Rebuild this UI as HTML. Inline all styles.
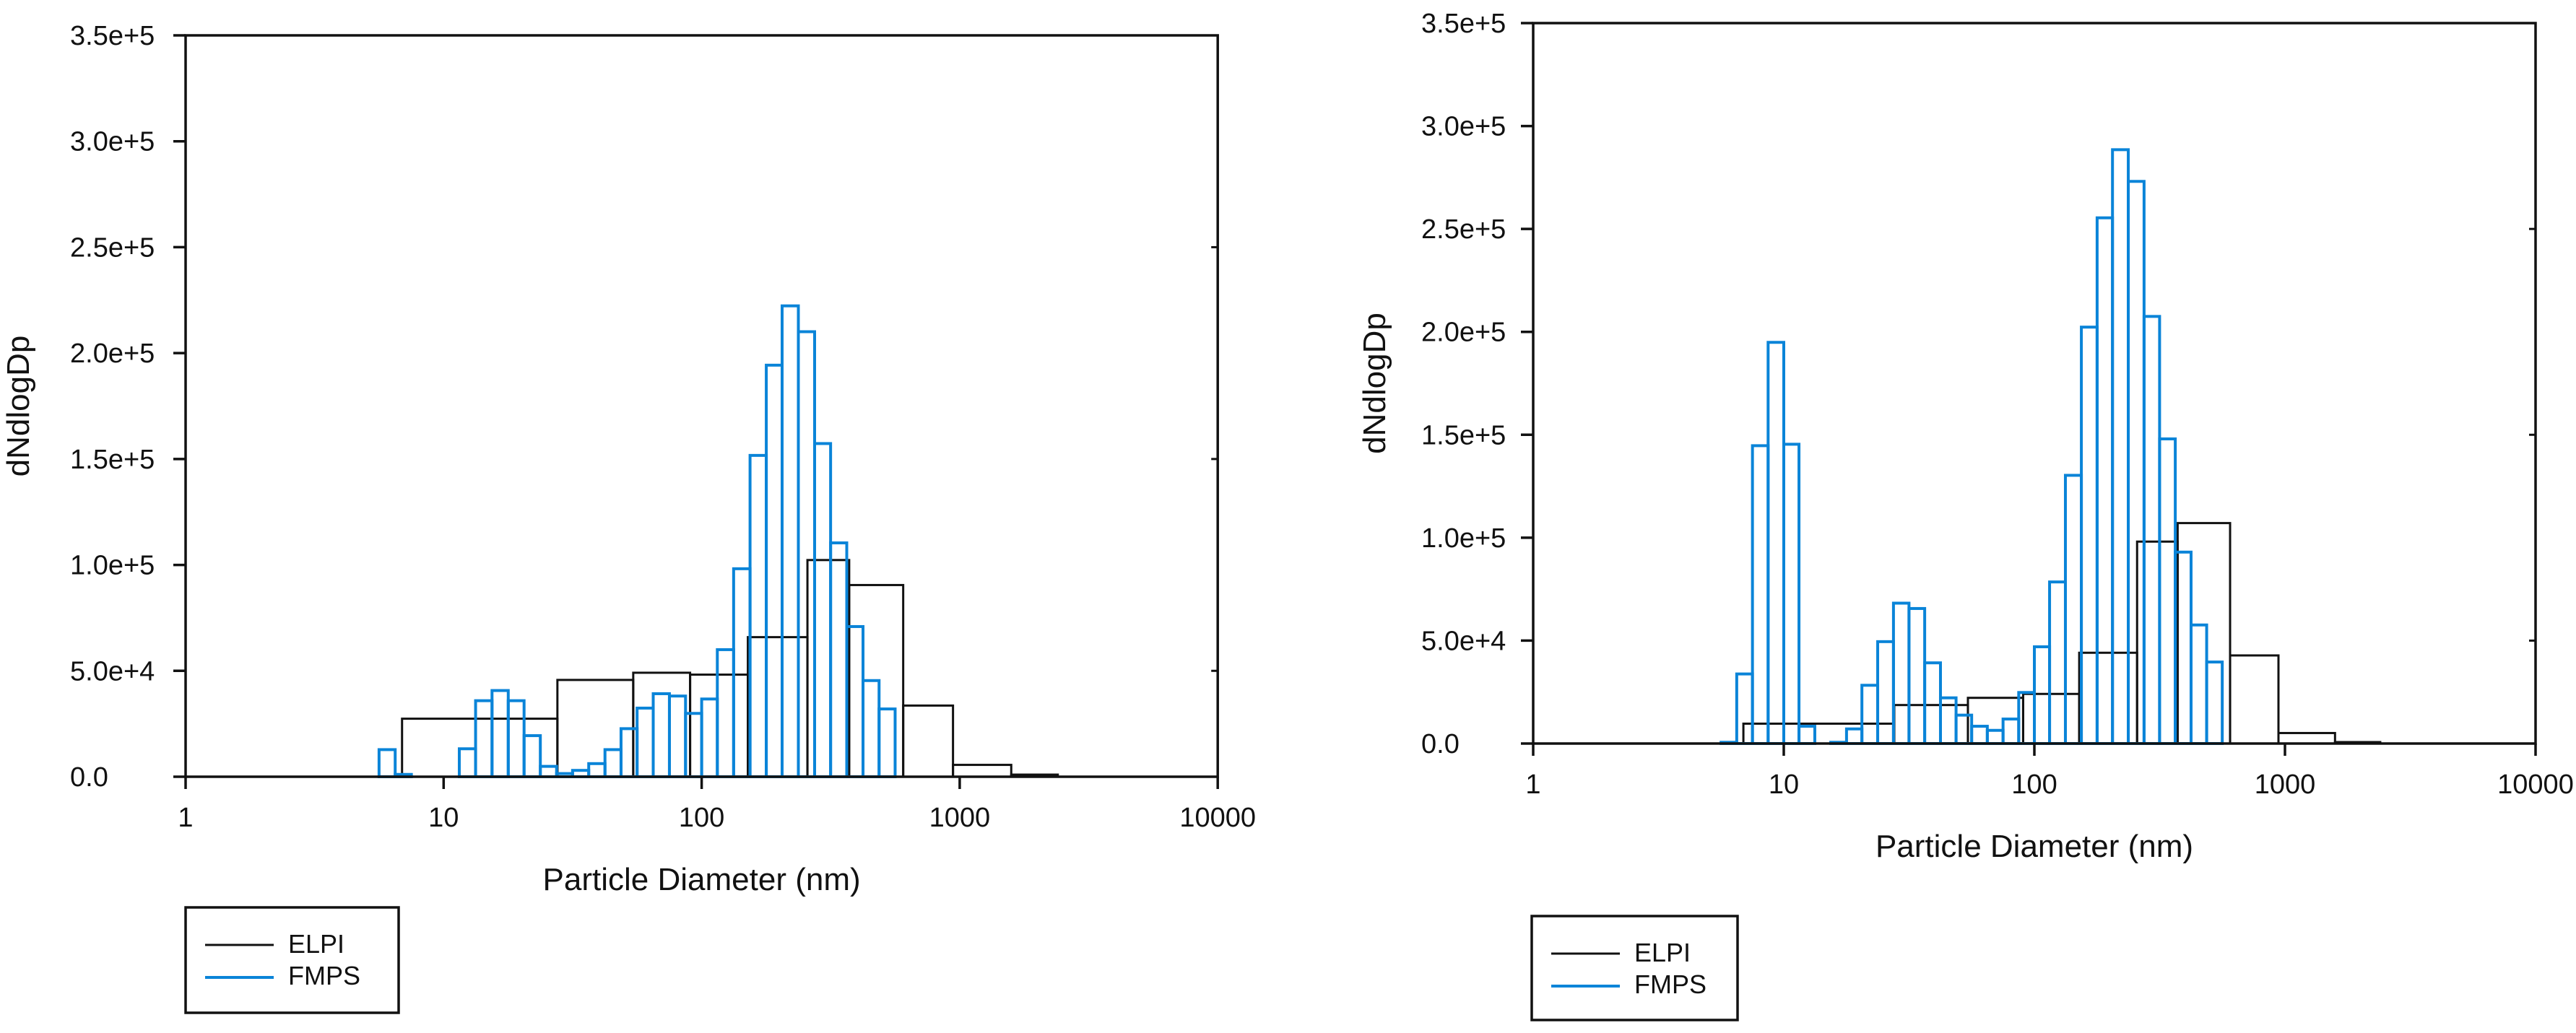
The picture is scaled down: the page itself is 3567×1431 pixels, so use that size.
<!DOCTYPE html>
<html>
<head>
<meta charset="utf-8">
<style>
html,body{margin:0;padding:0;background:#fff;}
svg{display:block;font-family:"Liberation Sans",Arial,sans-serif;}
</style>
</head>
<body>
<svg id="fig" width="3567" height="1431" viewBox="0 0 3567 1431" xmlns="http://www.w3.org/2000/svg"></svg>
<script>
// ---- data ----
const fmpsEdges = [5.62,6.49,7.50,8.66,10.0,11.5,13.3,15.4,17.8,20.5,23.7,27.4,31.6,36.5,42.2,48.7,56.2,64.9,75.0,86.6,100,115,133,154,178,205,237,274,316,365,422,487,562];
const fmpsLeft = [12800,1100,0,0,0,13200,35900,40700,35900,19400,4900,1500,3000,6200,12800,22700,32400,39200,38100,29900,36700,60000,98200,151700,194300,222300,210100,157300,110400,70900,45400,32000];
const fmpsRight = [600,33800,144700,194900,145400,8400,0,600,7100,28300,49500,68200,65600,39200,22200,13800,8400,6400,11900,24800,47000,78500,130300,202300,255400,288500,273100,207500,148000,93000,57600,39600];
const elpiEdges = [6.9,27.6,54.3,90.2,151,257,373,604,942,1584,2400];
const elpiLeft = [27400,45700,49100,48200,65900,102300,90500,33600,5600,1000];
const elpiRight = [9650,18700,22200,24100,44100,98100,107100,42800,5100,700];
const xTickValues = [1,10,100,1000,10000];
const xTickLabels = ["1","10","100","1000","10000"];
const yTickValues = [0,50000,100000,150000,200000,250000,300000,350000];
const yTickLabels = ["0.0","5.0e+4","1.0e+5","1.5e+5","2.0e+5","2.5e+5","3.0e+5","3.5e+5"];

const NS = "http://www.w3.org/2000/svg";
const svg = document.getElementById('fig');
function mk(tag, attrs, parent){
  const e = document.createElementNS(NS, tag);
  for (const k in attrs) e.setAttribute(k, attrs[k]);
  parent.appendChild(e);
  return e;
}

function drawChart(id, cfg, fmps, elpi){
  const g = mk('g', {}, svg);
  
  
  const xs = v => cfg.x0 + cfg.dec * Math.log10(v);
  const ys = v => cfg.zero - (cfg.zero - cfg.top) * v / 350000;
  const xr = xs(10000);

  const eg = mk('g', {fill:'none', stroke:'#111', 'stroke-width':3}, g);
  
  
  for (let i = 0; i < elpi.length; i++){
    const x1 = xs(elpiEdges[i]), x2 = xs(elpiEdges[i+1]), y = ys(elpi[i]);
    const r = mk('rect', {x:x1, y:y, width:x2-x1, height:cfg.zero-y}, eg);
    
    
  }
  const fg = mk('g', {fill:'none', stroke:'#0a84d8', 'stroke-width':4}, g);
  
  
  for (let i = 0; i < fmps.length; i++){
    const x1 = xs(fmpsEdges[i]), x2 = xs(fmpsEdges[i+1]), y = ys(fmps[i]);
    const r = mk('rect', {x:x1, y:y, width:x2-x1, height:cfg.zero-y}, fg);
    
    
  }

  const fr = mk('rect', {x:cfg.x0, y:cfg.top, width:xr-cfg.x0, height:cfg.zero-cfg.top, fill:'none', stroke:'#111', 'stroke-width':3.5}, g);
  
  

  for (let i = 0; i < xTickValues.length; i++){
    const x = xs(xTickValues[i]);
    const t = mk('line', {x1:x, x2:x, y1:cfg.zero, y2:cfg.zero+17, stroke:'#111','stroke-width':3.5}, g);
    
    
    const l = mk('text', {x:x, y:cfg.zero+69, 'font-size':38, 'text-anchor':'middle', fill:'#111'}, g);
    l.textContent = xTickLabels[i];
    
    
  }
  for (let i = 0; i < yTickValues.length; i++){
    const y = ys(yTickValues[i]);
    const t = mk('line', {x1:cfg.x0-17, x2:cfg.x0, y1:y, y2:y, stroke:'#111','stroke-width':3.5}, g);
    
    
    if (i % 2 === 1){
      const t2 = mk('line', {x1:xr-9, x2:xr, y1:y, y2:y, stroke:'#111','stroke-width':3}, g);
      
      
    }
    const l = mk('text', {x:cfg.x0-cfg.ylx, y:y+13, 'font-size':38, 'text-anchor':'start', fill:'#111'}, g);
    l.textContent = yTickLabels[i];
    
    
  }
  const xt = mk('text', {x:(cfg.x0+xr)/2, y:cfg.zero+157, 'font-size':44, 'text-anchor':'middle', fill:'#111'}, g);
  xt.textContent = 'Particle Diameter (nm)';
  
  
  const cy = (cfg.top+cfg.zero)/2;
  const yt = mk('text', {x:cfg.ytx, y:cy, 'font-size':44, 'text-anchor':'middle', fill:'#111', transform:'rotate(-90 '+cfg.ytx+' '+cy+')'}, g);
  yt.textContent = 'dNdlogDp';
  
  

  const lg = mk('g', {}, g);
  
  
  const L = cfg.leg;
  mk('rect', {x:L.x, y:L.y, width:L.w, height:L.h, fill:'#fff', stroke:'#111','stroke-width':3.5}, lg);
  const e1 = mk('line', {x1:L.x+27, x2:L.x+122, y1:L.y+52, y2:L.y+52, stroke:'#111','stroke-width':3}, lg);
  
  
  const t1 = mk('text', {x:L.x+142, y:L.y+63, 'font-size':36, fill:'#111'}, lg);
  t1.textContent = 'ELPI';
  
  
  const e2 = mk('line', {x1:L.x+27, x2:L.x+122, y1:L.y+97, y2:L.y+97, stroke:'#0a84d8','stroke-width':4}, lg);
  
  
  const t2 = mk('text', {x:L.x+142, y:L.y+107, 'font-size':36, fill:'#111'}, lg);
  t2.textContent = 'FMPS';
  
  
}

drawChart('left-chart', {x0:257, dec:357.3, top:49, zero:1076, ytx:40, ylx:160, leg:{x:257,y:1257,w:295,h:146}}, fmpsLeft, elpiLeft);
drawChart('right-chart', {x0:2123, dec:347, top:32, zero:1030, ytx:1918, ylx:155, leg:{x:2121,y:1269,w:285,h:144}}, fmpsRight, elpiRight);
</script>
</body>
</html>
